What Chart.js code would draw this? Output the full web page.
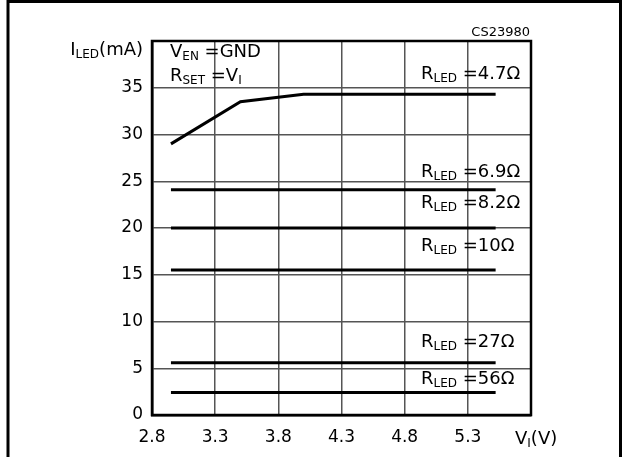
<!DOCTYPE html>
<html>
<head>
<meta charset="utf-8">
<script src="https://cdn.jsdelivr.net/npm/chart.js@4"></script>
<style>
  body { margin: 0; background: #fff; }
  canvas { display: block; }
</style>
</head>
<body>
<canvas id="led-chart" width="622" height="457"></canvas>
<script>
// Data
const resistances = ['4.7', '6.9', '8.2', '10', '27', '56'];
const curveV = [2.95, 3.5, 4.0, 5.52];       // V_I for R = 4.7 ohm
const curveI = [29.0, 33.5, 34.3, 34.3];     // I_LED (mA)
const flatV = [2.95, 5.52];                  // start / end of the flat lines
const flatI = [24.1, 20.0, 15.5, 5.6, 2.4];  // 6.9, 8.2, 10, 27, 56 ohm
const xTicks = [2.8, 3.3, 3.8, 4.3, 4.8, 5.3];
const yTicks = [0, 5, 10, 15, 20, 25, 30, 35];

const FONT = '"DejaVu Sans", sans-serif';

// text with subscripts: parts = [[text, isSub], ...]
function drawParts(ctx, parts, x, y, size, align) {
  const subSize = Math.round(size * 0.68);
  let total = 0;
  parts.forEach(p => {
    ctx.font = (p[1] ? subSize : size) + 'px ' + FONT;
    total += ctx.measureText(p[0]).width;
  });
  let cx = align === 'right' ? x - total : x;
  ctx.textAlign = 'left';
  ctx.textBaseline = 'alphabetic';
  parts.forEach(p => {
    ctx.font = (p[1] ? subSize : size) + 'px ' + FONT;
    ctx.fillText(p[0], cx, p[1] ? y + 3 : y);
    cx += ctx.measureText(p[0]).width;
  });
}

// label baselines for the R_LED notes
const rLabelY = [79, 177, 208, 251, 347, 384];

const decorPlugin = {
  id: 'decor',
  beforeDraw(chart) {
    const ctx = chart.ctx;
    ctx.save();
    ctx.fillStyle = '#fff';
    ctx.fillRect(0, 0, chart.width, chart.height);
    // outer frame (top, left, right)
    ctx.strokeStyle = '#000';
    ctx.lineWidth = 3;
    ctx.beginPath();
    ctx.moveTo(8, 457);
    ctx.lineTo(8, 1.5);
    ctx.lineTo(620.5, 1.5);
    ctx.lineTo(620.5, 457);
    ctx.stroke();
    ctx.restore();
  },
  afterDraw(chart) {
    const ctx = chart.ctx;
    const a = chart.chartArea;
    ctx.save();
    ctx.strokeStyle = '#000';
    ctx.lineWidth = 2.5;
    ctx.strokeRect(a.left, a.top, a.right - a.left, a.bottom - a.top);

    ctx.fillStyle = '#000';
    drawParts(ctx, [['I', false], ['LED', true], ['(mA)', false]], 143, 55, 18, 'right');
    drawParts(ctx, [['V', false], ['EN', true], [' =GND', false]], 170, 57, 18);
    drawParts(ctx, [['R', false], ['SET', true], [' =V', false], ['I', true]], 170, 81, 18);
    resistances.forEach((r, i) => {
      drawParts(ctx, [['R', false], ['LED', true], [' =' + r + '\u03A9', false]], 421, rLabelY[i], 18);
    });
    drawParts(ctx, [['V', false], ['I', true], ['(V)', false]], 515, 444, 18);

    ctx.font = '13px ' + FONT;
    ctx.textAlign = 'right';
    ctx.fillText('CS23980', 530, 36);
    ctx.restore();
  }
};

const lineStyle = {
  borderColor: '#000',
  borderWidth: 3,
  pointRadius: 0,
  fill: false,
  tension: 0
};

const datasets = [{
  label: 'R_LED = ' + resistances[0],
  data: curveV.map((v, i) => ({ x: v, y: curveI[i] })),
  ...lineStyle
}];
flatI.forEach((cur, i) => {
  datasets.push({
    label: 'R_LED = ' + resistances[i + 1],
    data: flatV.map(v => ({ x: v, y: cur })),
    ...lineStyle
  });
});

new Chart(document.getElementById('led-chart'), {
  type: 'line',
  data: { datasets: datasets },
  options: {
    responsive: false,
    animation: false,
    devicePixelRatio: 1,
    layout: { padding: { left: 0, right: 91, top: 41, bottom: 0 } },
    plugins: {
      legend: { display: false },
      tooltip: { enabled: false }
    },
    scales: {
      x: {
        type: 'linear',
        min: 2.8,
        max: 5.8,
        afterFit: (scale) => { scale.height = 42; },
        afterBuildTicks: (scale) => {
          scale.ticks = xTicks.concat([5.8]).map(v => ({ value: v }));
        },
        ticks: {
          color: '#000',
          font: { family: FONT, size: 17 },
          padding: 12,
          maxRotation: 0,
          autoSkip: false,
          callback: (v) => xTicks.some(t => Math.abs(t - v) < 1e-6) ? v.toFixed(1) : ''
        },
        grid: { color: '#555', lineWidth: 1.5, drawTicks: false },
        border: { color: '#000', width: 2.5 }
      },
      y: {
        min: 0,
        max: 40,
        afterFit: (scale) => { scale.width = 152; },
        afterBuildTicks: (scale) => {
          scale.ticks = yTicks.concat([40]).map(v => ({ value: v }));
        },
        ticks: {
          color: '#000',
          font: { family: FONT, size: 17 },
          padding: 9,
          autoSkip: false,
          callback: (v) => yTicks.includes(v) ? String(v) : ''
        },
        grid: { color: '#555', lineWidth: 1.5, drawTicks: false },
        border: { color: '#000', width: 2.5 }
      }
    }
  },
  plugins: [decorPlugin]
});
</script>
</body>
</html>
